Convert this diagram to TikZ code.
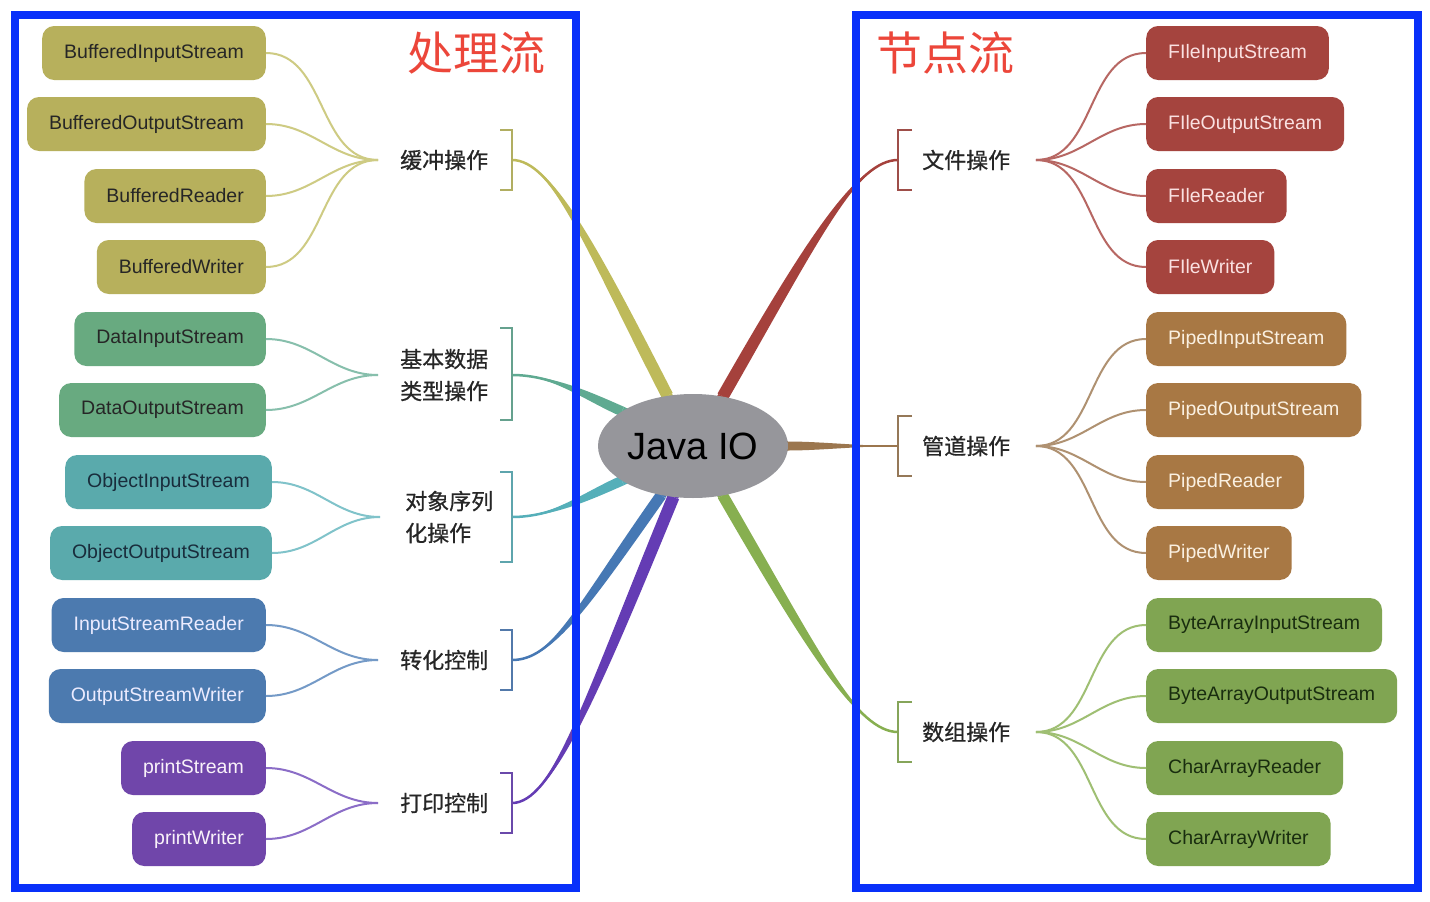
\documentclass[tikz,border=0pt]{standalone}
\usepackage{fontspec}
\setmainfont{Liberation Sans}
\newfontfamily\cjk{Noto Sans CJK SC}
\newfontfamily\cjkbold[FakeBold=0.7]{Noto Sans CJK SC}
\usetikzlibrary{calc}
\usetikzlibrary{shapes}
\pgfdeclarelayer{bg}
\pgfdeclarelayer{branches}
\pgfsetlayers{bg,branches,main}
\definecolor{bufcol}{RGB}{183,176,92}
\definecolor{bufline}{RGB}{190,186,90}
\definecolor{datcol}{RGB}{104,170,128}
\definecolor{datline}{RGB}{95,170,145}
\definecolor{objcol}{RGB}{90,170,172}
\definecolor{objline}{RGB}{85,175,185}
\definecolor{cvtcol}{RGB}{76,122,175}
\definecolor{cvtline}{RGB}{70,120,180}
\definecolor{prtcol}{RGB}{112,70,170}
\definecolor{prtline}{RGB}{100,60,180}
\definecolor{filecol}{RGB}{165,68,62}
\definecolor{fileline}{RGB}{165,65,60}
\definecolor{pipecol}{RGB}{168,120,68}
\definecolor{pipeline}{RGB}{155,118,78}
\definecolor{arrcol}{RGB}{128,165,82}
\definecolor{arrline}{RGB}{135,175,80}
\definecolor{javagray}{RGB}{150,150,155}
\definecolor{titlered}{RGB}{236,70,58}
\definecolor{frameblue}{RGB}{8,48,250}
\tikzset{
	leaf/.style={
		rounded corners=12pt,
		minimum height=54pt,
		inner xsep=22pt,
		inner ysep=0pt,
		font=\fontsize{19.5}{20}\selectfont,
	},
	buf/.style={leaf, fill=bufcol, text=black!85, anchor=east},
	dat/.style={leaf, fill=datcol, text=black!85, anchor=east},
	obj/.style={leaf, fill=objcol, text={rgb,255:red,25;green,45;blue,60}, anchor=east},
	cvt/.style={leaf, fill=cvtcol, text=white!92!blue, anchor=east},
	prt/.style={leaf, fill=prtcol, text=white!95!violet, anchor=east},
	fil/.style={leaf, fill=filecol, text={rgb,255:red,250;green,225;blue,225}, anchor=west},
	pip/.style={leaf, fill=pipecol, text={rgb,255:red,250;green,240;blue,225}, anchor=west},
	arr/.style={leaf, fill=arrcol, text={rgb,255:red,25;green,45;blue,15}, anchor=west},
	twig/.style={line width=2pt},
	bracket/.style={line width=2pt},
	grouplabel/.style={
		font=\cjkbold\fontsize{22}{32}\selectfont,
		text=black!85,
		align=left,
		anchor=west,
		inner sep=0pt,
	},
	headline/.style={font=\cjk\fontsize{46}{46}\selectfont, text=titlered},
	bluebox/.style={draw=frameblue, line width=8pt},
}
% tapered main branch: colour, start, control 1, control 2, end, half width
\newcommand{\branch}[6]{%
	\fill[#1] (#2) .. controls (#3) and ($(#4)+(#6)$) .. ($(#5)+(#6)$) -- ($(#5)-(#6)$) .. controls ($(#4)-(#6)$) and (#3) .. (#2) -- cycle;
	\draw[#1, line width=2.5pt] (#2) .. controls (#3) and (#4) .. (#5);
	\draw[#1, line width=10pt] (#5) -- (javaio.center);
}

\begin{document}
\begin{tikzpicture}[x=1pt, y=-1pt]
	\useasboundingbox (0,0) rectangle (1430,902);
	\begin{pgfonlayer}{bg}
		\fill[white] (0,0) rectangle (1430,902);
	\end{pgfonlayer}

	\node[ellipse, fill=javagray, minimum width=190pt, minimum height=104pt, inner sep=0pt,
		font=\fontsize{38}{38}\selectfont] (javaio) at (693,446) {Java IO};

	\node[headline] (tproc) at (476,53) {处理流};
	\node[headline] (tnode) at (945,53) {节点流};

	% left side
	\node[buf] (bufin) at (266,53) {BufferedInputStream};
	\node[buf] (bufout) at (266,124) {BufferedOutputStream};
	\node[buf] (bufrd) at (266,196) {BufferedReader};
	\node[buf] (bufwr) at (266,267) {BufferedWriter};

	\node[dat] (datin) at (266,339) {DataInputStream};
	\node[dat] (datout) at (266,410) {DataOutputStream};

	\node[obj] (objin) at (272,482) {ObjectInputStream};
	\node[obj] (objout) at (272,553) {ObjectOutputStream};

	\node[cvt] (cvtrd) at (266,625) {InputStreamReader};
	\node[cvt] (cvtwr) at (266,696) {OutputStreamWriter};

	\node[prt] (prtst) at (266,768) {printStream};
	\node[prt] (prtwr) at (266,839) {printWriter};

	\node[grouplabel] (lbuf) at (400,160) {缓冲操作};
	\node[grouplabel] (ldat) at (400,375) {基本数据\\类型操作};
	\node[grouplabel] (lobj) at (405,517) {对象序列\\化操作};
	\node[grouplabel] (lcvt) at (400,660) {转化控制};
	\node[grouplabel] (lprt) at (400,803) {打印控制};

	\coordinate (hbuf) at (378,160);
	\coordinate (hdat) at (378,375);
	\coordinate (hobj) at (380,517);
	\coordinate (hcvt) at (378,660);
	\coordinate (hprt) at (378,803);

	\draw[twig, bufline!75] (hbuf) to[out=180,in=0] (bufin.east);
	\draw[twig, bufline!75] (hbuf) to[out=180,in=0] (bufout.east);
	\draw[twig, bufline!75] (hbuf) to[out=180,in=0] (bufrd.east);
	\draw[twig, bufline!75] (hbuf) to[out=180,in=0] (bufwr.east);
	\draw[twig, datline!75] (hdat) to[out=180,in=0] (datin.east);
	\draw[twig, datline!75] (hdat) to[out=180,in=0] (datout.east);
	\draw[twig, objline!75] (hobj) to[out=180,in=0] (objin.east);
	\draw[twig, objline!75] (hobj) to[out=180,in=0] (objout.east);
	\draw[twig, cvtline!75] (hcvt) to[out=180,in=0] (cvtrd.east);
	\draw[twig, cvtline!75] (hcvt) to[out=180,in=0] (cvtwr.east);
	\draw[twig, prtline!75] (hprt) to[out=180,in=0] (prtst.east);
	\draw[twig, prtline!75] (hprt) to[out=180,in=0] (prtwr.east);

	\coordinate (bbuf) at (512,160);
	\coordinate (bdat) at (512,375);
	\coordinate (bobj) at (512,517);
	\coordinate (bcvt) at (512,660);
	\coordinate (bprt) at (512,803);

	\draw[bracket, bufline!80!gray] (500,130) -- (512,130) -- (bbuf) -- (512,190) -- (500,190);
	\draw[bracket, datline!80!gray] (500,328) -- (512,328) -- (bdat) -- (512,420) -- (500,420);
	\draw[bracket, objline!80!gray] (500,472) -- (512,472) -- (bobj) -- (512,562) -- (500,562);
	\draw[bracket, cvtline!80!gray] (500,630) -- (512,630) -- (bcvt) -- (512,690) -- (500,690);
	\draw[bracket, prtline!80!gray] (500,773) -- (512,773) -- (bprt) -- (512,833) -- (500,833);

	% right side
	\node[fil] (filin) at (1146,53) {FIleInputStream};
	\node[fil] (filout) at (1146,124) {FIleOutputStream};
	\node[fil] (filrd) at (1146,196) {FIleReader};
	\node[fil] (filwr) at (1146,267) {FIleWriter};

	\node[pip] (pipin) at (1146,339) {PipedInputStream};
	\node[pip] (pipout) at (1146,410) {PipedOutputStream};
	\node[pip] (piprd) at (1146,482) {PipedReader};
	\node[pip] (pipwr) at (1146,553) {PipedWriter};

	\node[arr] (arrin) at (1146,625) {ByteArrayInputStream};
	\node[arr] (arrout) at (1146,696) {ByteArrayOutputStream};
	\node[arr] (arrrd) at (1146,768) {CharArrayReader};
	\node[arr] (arrwr) at (1146,839) {CharArrayWriter};

	\node[grouplabel] (lfil) at (922,160) {文件操作};
	\node[grouplabel] (lpip) at (922,446) {管道操作};
	\node[grouplabel] (larr) at (922,732) {数组操作};

	\coordinate (hfil) at (1036,160);
	\coordinate (hpip) at (1036,446);
	\coordinate (harr) at (1036,732);

	\draw[twig, fileline!80] (hfil) to[out=0,in=180] (filin.west);
	\draw[twig, fileline!80] (hfil) to[out=0,in=180] (filout.west);
	\draw[twig, fileline!80] (hfil) to[out=0,in=180] (filrd.west);
	\draw[twig, fileline!80] (hfil) to[out=0,in=180] (filwr.west);
	\draw[twig, pipeline!80] (hpip) to[out=0,in=180] (pipin.west);
	\draw[twig, pipeline!80] (hpip) to[out=0,in=180] (pipout.west);
	\draw[twig, pipeline!80] (hpip) to[out=0,in=180] (piprd.west);
	\draw[twig, pipeline!80] (hpip) to[out=0,in=180] (pipwr.west);
	\draw[twig, arrline!80] (harr) to[out=0,in=180] (arrin.west);
	\draw[twig, arrline!80] (harr) to[out=0,in=180] (arrout.west);
	\draw[twig, arrline!80] (harr) to[out=0,in=180] (arrrd.west);
	\draw[twig, arrline!80] (harr) to[out=0,in=180] (arrwr.west);

	\coordinate (bfil) at (898,160);
	\coordinate (bpip) at (898,446);
	\coordinate (barr) at (898,732);

	\draw[bracket, fileline!80!gray] (912,130) -- (898,130) -- (bfil) -- (898,190) -- (912,190);
	\draw[bracket, pipeline!80!gray] (912,416) -- (898,416) -- (bpip) -- (898,476) -- (912,476);
	\draw[bracket, arrline!80!gray] (912,702) -- (898,702) -- (barr) -- (898,762) -- (912,762);

	\begin{pgfonlayer}{branches}
		\branch{bufline}{bbuf}{552,160}{590,245}{javaio.117}{5.3,-2.7}
		\branch{datline}{bdat}{552,375}{585,395}{javaio.154}{2.1,-4.5}
		\branch{objline}{bobj}{552,517}{585,497}{javaio.206}{2.1,4.5}
		\branch{cvtline}{bcvt}{552,660}{580,610}{javaio.237}{4.5,3.2}
		\branch{prtline}{bprt}{552,803}{590,700}{javaio.249}{5.6,2.3}
		\branch{fileline}{bfil}{858,160}{815,235}{javaio.59}{5.2,3.0}
		\branch{pipeline}{bpip}{860,446}{820,446}{javaio.east}{0,4.5}
		\branch{arrline}{barr}{858,732}{815,655}{javaio.-59}{4.8,-2.8}
	\end{pgfonlayer}

	\draw[bluebox] (15,15) rectangle (576,888);
	\draw[bluebox] (856,15) rectangle (1418,888);
\end{tikzpicture}
\end{document}
